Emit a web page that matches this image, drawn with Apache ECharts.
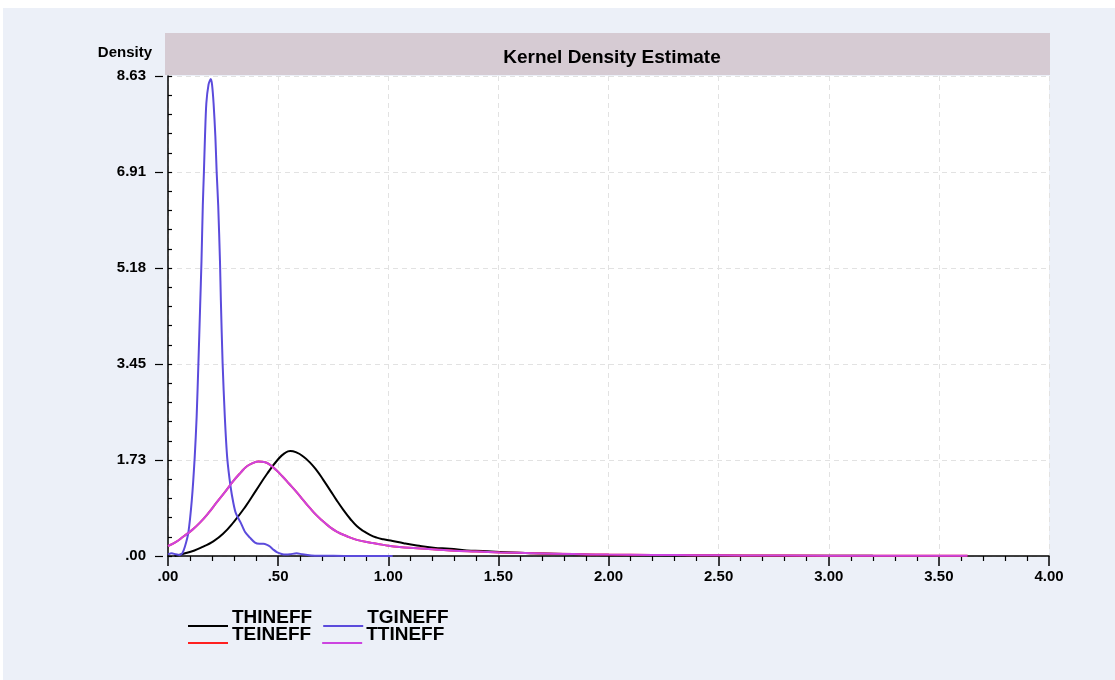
<!DOCTYPE html>
<html>
<head>
    <meta charset="utf-8">
    <title>Kernel Density Estimate</title>
    <script type="text/javascript" src="https://cdn.jsdelivr.net/npm/echarts@6/dist/echarts.min.js"></script>
    <style>
        body { margin: 0; background: #fff; }
        #panel { position: absolute; left: 3px; top: 8px; width: 1112px; height: 672px; background: #ecf0f8; }
        #main { position: absolute; left: 0; top: 0; width: 1115px; height: 680px; }
    </style>
</head>
<body>
<div id="panel"></div>
<div id="main"></div>

<script type="text/javascript">
    // 曲线数据 [x, density]
    var thineff = [
        [0.03, 0.0], [0.07, 0.04], [0.12, 0.1], [0.16, 0.17], [0.2, 0.25], [0.25, 0.4],
        [0.3, 0.62], [0.35, 0.88], [0.4, 1.18], [0.45, 1.48], [0.5, 1.74], [0.53, 1.85],
        [0.555, 1.89], [0.585, 1.86], [0.614, 1.79], [0.645, 1.68], [0.675, 1.54], [0.705, 1.37],
        [0.735, 1.19], [0.766, 1.0], [0.796, 0.83], [0.827, 0.67], [0.857, 0.54], [0.887, 0.45],
        [0.917, 0.38], [0.948, 0.33], [0.978, 0.3], [1.02, 0.27], [1.07, 0.23], [1.13, 0.19],
        [1.205, 0.15], [1.28, 0.13], [1.356, 0.1], [1.43, 0.09], [1.507, 0.07], [1.66, 0.048],
        [1.84, 0.03], [1.99, 0.015], [2.2, 0.012], [2.5, 0.008], [2.8, 0.005], [3.2, 0.003], [3.63, 0.002]
    ];
    var tgineff = [
        [0, 0.03], [0.017, 0.05], [0.035, 0.03], [0.054, 0.02], [0.065, 0.05], [0.077, 0.17],
        [0.092, 0.41], [0.108, 1.0], [0.121, 1.76], [0.13, 2.5], [0.138, 3.46], [0.146, 4.5],
        [0.152, 5.3], [0.158, 6.3], [0.163, 6.9], [0.168, 7.55], [0.174, 8.14], [0.184, 8.48],
        [0.194, 8.58], [0.2, 8.48], [0.207, 8.14], [0.215, 7.55], [0.221, 6.9], [0.228, 6.3],
        [0.236, 5.3], [0.24, 4.6], [0.248, 3.46], [0.258, 2.5], [0.269, 1.76], [0.284, 1.25],
        [0.297, 0.95], [0.308, 0.77], [0.33, 0.6], [0.35, 0.43], [0.372, 0.33], [0.395, 0.24],
        [0.415, 0.22], [0.433, 0.22], [0.45, 0.2], [0.463, 0.17], [0.48, 0.11], [0.494, 0.07],
        [0.516, 0.036], [0.535, 0.025], [0.554, 0.03], [0.584, 0.05], [0.61, 0.03], [0.65, 0.01],
        [0.7, 0.005], [0.8, 0.002], [1.02, 0.0]
    ];
    var ttineff = [
        [0, 0.18], [0.035, 0.25], [0.07, 0.35], [0.11, 0.47], [0.145, 0.6], [0.185, 0.78],
        [0.22, 0.96], [0.26, 1.16], [0.297, 1.35], [0.33, 1.5], [0.357, 1.61], [0.385, 1.67],
        [0.41, 1.7], [0.437, 1.69], [0.463, 1.64], [0.49, 1.55], [0.52, 1.43], [0.55, 1.3],
        [0.584, 1.15], [0.615, 1.0], [0.645, 0.86], [0.675, 0.73], [0.705, 0.62], [0.735, 0.52],
        [0.766, 0.44], [0.81, 0.36], [0.857, 0.29], [0.92, 0.24], [0.978, 0.2], [1.05, 0.16],
        [1.13, 0.14], [1.2, 0.12], [1.28, 0.1], [1.4, 0.08], [1.507, 0.065], [1.66, 0.05],
        [1.84, 0.035], [2.0, 0.025], [2.2, 0.018], [2.4, 0.015], [2.6, 0.01], [3.0, 0.006],
        [3.3, 0.004], [3.63, 0.003]
    ];
    // TEINEFF 与 TTINEFF 在图上重合，只在两端露出红色
    var teineff = ttineff;

    var yMax = 8.634;
    var yStep = 1.7268;
    var xMax = 4;
    var xStep = 0.5;

    var font = '"Liberation Sans", Arial, sans-serif';
    function fmt(v) {
        return v.toFixed(2).replace(/^0/, '');
    }
    // 图例线画在文字下面
    var legendIcon = 'path://M0,0 L0.01,0 L0.01,0.01 Z M0,17 L40,17 L40,19 L0,19 Z';
    var legendBase = {
        icon: legendIcon,
        itemWidth: 40,
        itemHeight: 19,
        itemGap: 11,
        left: 188,
        padding: 0,
        selectedMode: false,
        itemStyle: { borderWidth: 0 },
        textStyle: { fontFamily: font, fontWeight: 'bold', fontSize: 19, color: '#000', padding: [0, 0, 0, -1] }
    };

    var chart = echarts.init(document.getElementById('main'));
    var option = {
        backgroundColor: 'transparent',
        animation: false,
        title: {
            text: 'Kernel Density Estimate',
            left: 607,
            top: 43,
            textAlign: 'center',
            textStyle: { fontFamily: font, fontWeight: 'bold', fontSize: 19, color: '#000' }
        },
        graphic: [{
            type: 'rect',
            z: -1,
            shape: { x: 165, y: 33, width: 885, height: 42 },
            style: { fill: '#d6cbd3' }
        }],
        legend: [
            Object.assign({ top: 608, data: ['THINEFF', 'TGINEFF'] }, legendBase),
            Object.assign({ top: 625, data: ['TEINEFF', 'TTINEFF'] }, legendBase)
        ],
        grid: {
            left: 168,
            right: 66,
            top: 76,
            bottom: 124,
            show: true,
            backgroundColor: '#fff',
            borderWidth: 0
        },
        xAxis: {
            type: 'value',
            min: 0,
            max: xMax,
            interval: xStep,
            axisLine: { onZero: false, lineStyle: { color: '#000', width: 1.5 } },
            axisTick: { length: 10, lineStyle: { color: '#000', width: 1.5 } },
            minorTick: { show: true, splitNumber: 5, length: 5, lineStyle: { color: '#000', width: 1.2 } },
            splitLine: { show: true, lineStyle: { color: '#e2e2e2', type: [5, 4] } },
            axisLabel: {
                margin: 13,
                fontFamily: font, fontWeight: 'bold', fontSize: 15, color: '#000',
                formatter: fmt
            }
        },
        yAxis: [{
            type: 'value',
            name: 'Density',
            nameLocation: 'end',
            nameGap: 16,
            nameTextStyle: { fontFamily: font, fontWeight: 'bold', fontSize: 15, color: '#000', align: 'right', padding: [0, 16, 0, 0] },
            min: 0,
            max: yMax,
            interval: yStep,
            offset: 5,
            axisLine: { show: true, lineStyle: { color: '#000', width: 1.5 } },
            axisTick: { show: true, inside: true, length: 4, lineStyle: { color: '#000', width: 1.2 } },
            minorTick: { show: true, splitNumber: 5, length: 4, lineStyle: { color: '#000', width: 1.2 } },
            splitLine: { show: true, lineStyle: { color: '#e2e2e2', type: [5, 4] } },
            axisLabel: {
                margin: 17,
                fontFamily: font, fontWeight: 'bold', fontSize: 15, color: '#000',
                formatter: fmt
            }
        }, {
            type: 'value',
            position: 'left',
            min: 0,
            max: yMax,
            interval: yStep,
            offset: 5,
            axisLine: { show: false },
            axisTick: { show: true, length: 8, lineStyle: { color: '#000', width: 1.2 } },
            splitLine: { show: false },
            axisLabel: { show: false }
        }],
        series: [
            { name: 'THINEFF', type: 'line', data: thineff, color: '#000000', smooth: 0.5 },
            { name: 'TEINEFF', type: 'line', data: teineff, color: '#ff2020', smooth: 0.5 },
            { name: 'TGINEFF', type: 'line', data: tgineff, color: '#5b4bdc', smooth: 0.25 },
            { name: 'TTINEFF', type: 'line', data: ttineff, color: '#cc44e0', smooth: 0.5 }
        ].map(function (s) {
            return Object.assign({
                showSymbol: false,
                lineStyle: { width: 2 }
            }, s);
        })
    };
    chart.setOption(option);
</script>
</body>
</html>
